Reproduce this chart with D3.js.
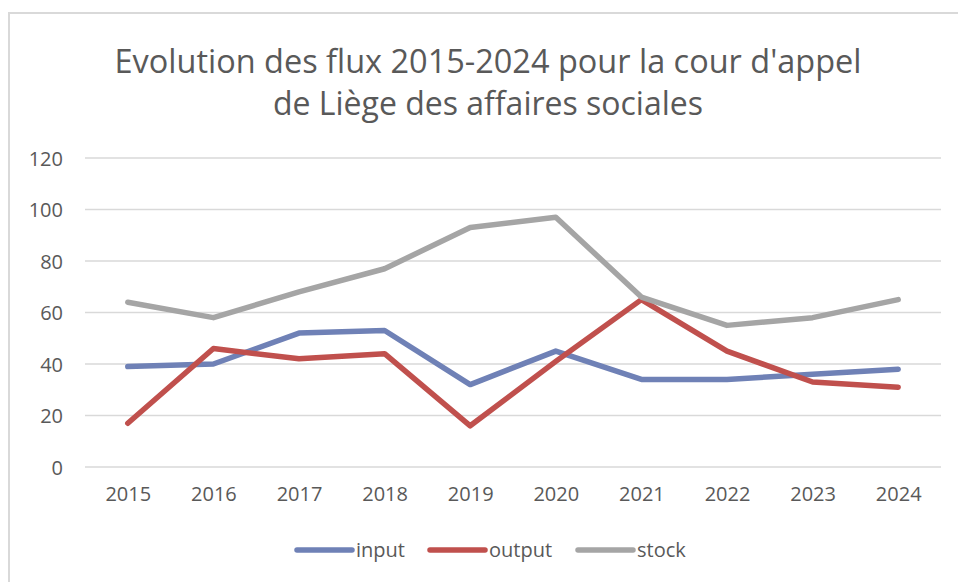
<!DOCTYPE html>
<html>
<head>
<meta charset="utf-8">
<script src="https://cdn.jsdelivr.net/npm/d3@7"></script>
<style>
  body { margin: 0; background: #fff; }
  text { font-family: "Open Sans", sans-serif; fill: #595959; }
</style>
</head>
<body>
<script>
const years = ["2015", "2016", "2017", "2018", "2019", "2020", "2021", "2022", "2023", "2024"];
const input = [39, 40, 52, 53, 32, 45, 34, 34, 36, 38];
const output = [17, 46, 42, 44, 16, 41, 65, 45, 33, 31];
const stock = [64, 58, 68, 77, 93, 97, 66, 55, 58, 65];
const yTicks = [0, 20, 40, 60, 80, 100, 120];
const titleLines = ["Evolution des flux 2015-2024 pour la cour d'appel", "de Liège des affaires sociales"];

const w = 958, h = 582;
const plotLeft = 85, plotRight = 941, plotTop = 158, plotBottom = 467;

const series = [
  {name: "input", values: input, color: "#6f81b6"},
  {name: "output", values: output, color: "#c0504d"},
  {name: "stock", values: stock, color: "#a5a5a5"}
];

const svg = d3.select("body").append("svg")
  .attr("width", w)
  .attr("height", h);

// chart frame (only top and left edges visible)
svg.append("rect")
  .attr("x", 9).attr("y", 13)
  .attr("width", 1000).attr("height", 700)
  .attr("fill", "none")
  .attr("stroke", "#d9d9d9")
  .attr("stroke-width", 2);

// title
const titleW = [747, 430];
svg.selectAll(".title")
  .data(titleLines)
  .enter().append("text")
  .attr("class", "title")
  .attr("x", 488)
  .attr("y", (d, i) => 73 + i * 42)
  .attr("text-anchor", "middle")
  .style("font-size", "32px")
  .attr("textLength", (d, i) => titleW[i])
  .attr("lengthAdjust", "spacingAndGlyphs")
  .text(d => d);

const x = d3.scalePoint()
  .domain(years)
  .range([plotLeft, plotRight])
  .padding(0.5);

const y = d3.scaleLinear()
  .domain([0, 120])
  .range([plotBottom, plotTop]);

// gridlines
svg.append("g")
  .selectAll("line")
  .data(yTicks)
  .enter().append("line")
  .attr("x1", plotLeft).attr("x2", plotRight)
  .attr("y1", d => y(d)).attr("y2", d => y(d))
  .attr("stroke", "#d9d9d9")
  .attr("stroke-width", 1.5);

// y axis
const yAxis = d3.axisLeft(y).tickValues(yTicks).tickSize(0).tickPadding(0);
const gy = svg.append("g")
  .attr("transform", "translate(63,0)")
  .call(yAxis);
gy.select(".domain").remove();
gy.selectAll("text")
  .style("font-size", "20px")
  .attr("dy", "0.35em")
  .style("fill", "#595959");

// x axis
const xAxis = d3.axisBottom(x).tickSize(0).tickPadding(0);
const gx = svg.append("g")
  .attr("transform", "translate(0,487)")
  .call(xAxis);
gx.select(".domain").remove();
gx.selectAll("text")
  .style("font-size", "20px")
  .style("fill", "#595959");

// lines
const line = d3.line()
  .x((d, i) => x(years[i]))
  .y(d => y(d));

svg.selectAll(".series")
  .data(series)
  .enter().append("path")
  .attr("class", "series")
  .attr("d", d => line(d.values))
  .attr("fill", "none")
  .attr("stroke", d => d.color)
  .attr("stroke-width", 5.5)
  .attr("stroke-linejoin", "round")
  .attr("stroke-linecap", "round");

// legend
const legendX = [297, 430, 578];
const lg = svg.selectAll(".legend")
  .data(series)
  .enter().append("g")
  .attr("class", "legend")
  .attr("transform", (d, i) => "translate(" + legendX[i] + ",550)");
lg.append("line")
  .attr("x1", 0).attr("x2", 55)
  .attr("y1", 0).attr("y2", 0)
  .attr("stroke", d => d.color)
  .attr("stroke-width", 5.5)
  .attr("stroke-linecap", "round");
lg.append("text")
  .attr("x", 59)
  .attr("dy", "0.35em")
  .style("font-size", "20px")
  .text(d => d.name);
</script>
</body>
</html>
